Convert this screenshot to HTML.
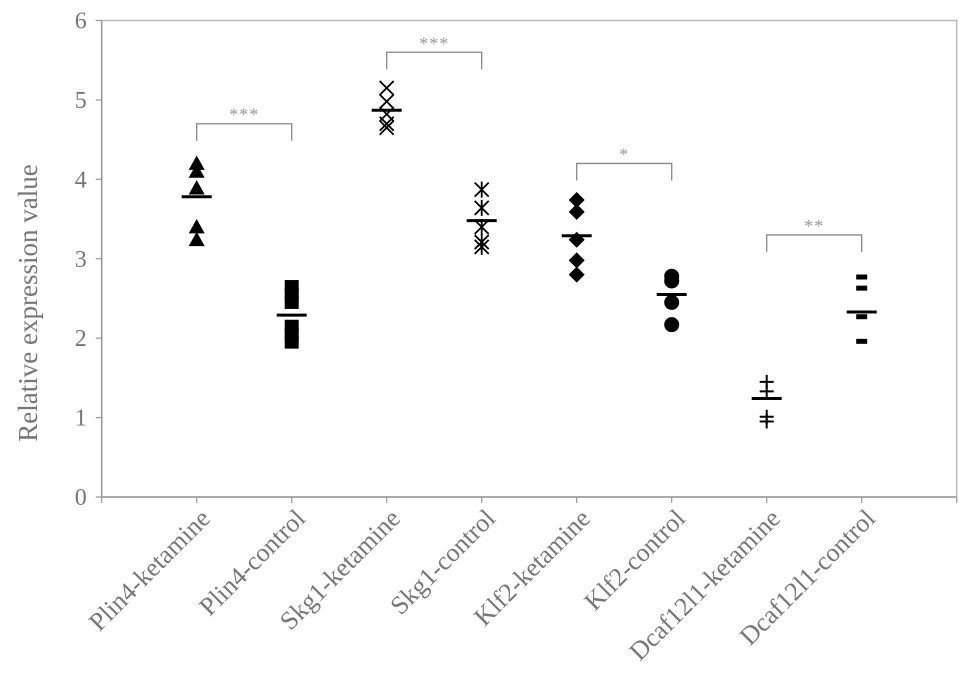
<!DOCTYPE html>
<html><head><meta charset="utf-8"><style>
body{margin:0;background:#fff;}
svg{display:block;font-family:"Liberation Serif",serif;}
</style></head><body>
<svg id="chart" width="969" height="690" viewBox="0 0 969 690" xmlns="http://www.w3.org/2000/svg"></svg>
<script>
const categories=["Plin4-ketamine","Plin4-control","Skg1-ketamine","Skg1-control","Klf2-ketamine","Klf2-control","Dcaf12l1-ketamine","Dcaf12l1-control"];
const markerTypes=["triangle","square","x","asterisk","diamond","circle","plus","dash"];
const plin4Ket=[4.2,4.1,3.89,3.4,3.24];
const plin4Ctl=[2.65,2.55,2.45,2.15,2.05,1.95];
const skg1Ket=[5.15,4.98,4.82,4.7,4.65];
const skg1Ctl=[3.87,3.64,3.4,3.21,3.15];
const klf2Ket=[3.74,3.59,3.24,2.98,2.8];
const klf2Ctl=[2.78,2.72,2.45,2.17];
const dcafKet=[1.45,1.33,1.01,0.95];
const dcafCtl=[2.77,2.63,2.27,1.96];
const seriesValues=[plin4Ket,plin4Ctl,skg1Ket,skg1Ctl,klf2Ket,klf2Ctl,dcafKet,dcafCtl];
const means=[3.78,2.29,4.87,3.48,3.29,2.55,1.24,2.33];
const yTicks=[0,1,2,3,4,5,6];
const brackets=[[0,1,4.7,"***"],[2,3,5.6,"***"],[4,5,4.2,"*"],[6,7,3.3,"**"]];

const svg=document.getElementById('chart');
const NS="http://www.w3.org/2000/svg";
const L=101.7,R=956.7,T=20.5,B=497,yMax=6;
const step=(R-L)/9;
function xPos(i){return L+step*(i+1);}
function yPos(v){return B-(v/yMax)*(B-T);}
function mk(tag,attrs,parent){const e=document.createElementNS(NS,tag);for(const k in attrs)e.setAttribute(k,attrs[k]);(parent||svg).appendChild(e);return e;}

let e=mk('rect',{x:L,y:T,width:R-L,height:B-T,fill:'none',stroke:'#bbb','stroke-width':1.5});



const yAxis=mk('g',{});


mk('line',{x1:L,y1:T,x2:L,y2:B,stroke:'#999','stroke-width':1.5},yAxis);
yTicks.forEach(t=>{
  const y=yPos(t);
  mk('line',{x1:L-6,y1:y,x2:L,y2:y,stroke:'#999','stroke-width':1.2},yAxis);
  const tx=mk('text',{x:L-15,y:y+8,'text-anchor':'end','font-size':24,fill:'#777'},yAxis);
  tx.textContent=t;
  
  
});
const yt=mk('text',{x:0,y:0,transform:'translate(37,303) rotate(-90)','text-anchor':'middle','font-size':27,fill:'#777'});
yt.textContent='Relative expression value';



const xAxis=mk('g',{});


mk('line',{x1:L,y1:B,x2:R,y2:B,stroke:'#999','stroke-width':1.5},xAxis);
for(let i=-1;i<9;i++){const x=xPos(i);mk('line',{x1:x,y1:B,x2:x,y2:B+6,stroke:'#999','stroke-width':1.2},xAxis);}
categories.forEach((c,i)=>{
  const x=xPos(i)+15,y=520;
  const tx=mk('text',{x:x,y:y,transform:`rotate(-45 ${x} ${y})`,'text-anchor':'end','font-size':26,fill:'#777'},xAxis);
  tx.textContent=c;
  
  
});

function marker(type,x,y,g){
  const s=8;
  switch(type){
    case 'triangle':mk('polygon',{points:`${x},${y-s} ${x+s},${y+s*0.8} ${x-s},${y+s*0.8}`,fill:'#000'},g);break;
    case 'square':mk('rect',{x:x-7,y:y-6.5,width:14,height:13,fill:'#000'},g);break;
    case 'x':mk('path',{d:`M${x-7},${y-7}L${x+7},${y+7}M${x+7},${y-7}L${x-7},${y+7}`,stroke:'#000','stroke-width':1.8,fill:'none'},g);break;
    case 'asterisk':mk('path',{d:`M${x-7},${y-7}L${x+7},${y+7}M${x+7},${y-7}L${x-7},${y+7}M${x},${y-8}L${x},${y+8}`,stroke:'#000','stroke-width':1.8,fill:'none'},g);break;
    case 'diamond':mk('polygon',{points:`${x},${y-8} ${x+8},${y} ${x},${y+8} ${x-8},${y}`,fill:'#000'},g);break;
    case 'circle':mk('circle',{cx:x,cy:y,r:7.5,fill:'#000'},g);break;
    case 'plus':mk('path',{d:`M${x-7},${y}L${x+7},${y}M${x},${y-7}L${x},${y+7}`,stroke:'#000','stroke-width':2,fill:'none'},g);break;
    case 'dash':mk('rect',{x:x-5.5,y:y-2.5,width:11,height:5,fill:'#000'},g);break;
  }
}
seriesValues.forEach((vals,i)=>{
  const g=mk('g',{});
  
  
  const x=xPos(i);
  vals.forEach(v=>{marker(markerTypes[i],x,yPos(v),g);});
  const ml=mk('line',{x1:x-15,y1:yPos(means[i]),x2:x+15,y2:yPos(means[i]),stroke:'#000','stroke-width':3},g);
  
  
});

brackets.forEach(b=>{
  const g=mk('g',{});
  
  
  const x1=xPos(b[0]),x2=xPos(b[1]),y=yPos(b[2]);
  mk('path',{d:`M${x1},${y+17}L${x1},${y}L${x2},${y}L${x2},${y+17}`,stroke:'#888','stroke-width':1.3,fill:'none'},g);
  const t=mk('text',{x:(x1+x2)/2,y:y-3,'text-anchor':'middle','font-size':18,fill:'#999','letter-spacing':'1'},g);
  t.textContent=b[3];
});
</script>
</body></html>
